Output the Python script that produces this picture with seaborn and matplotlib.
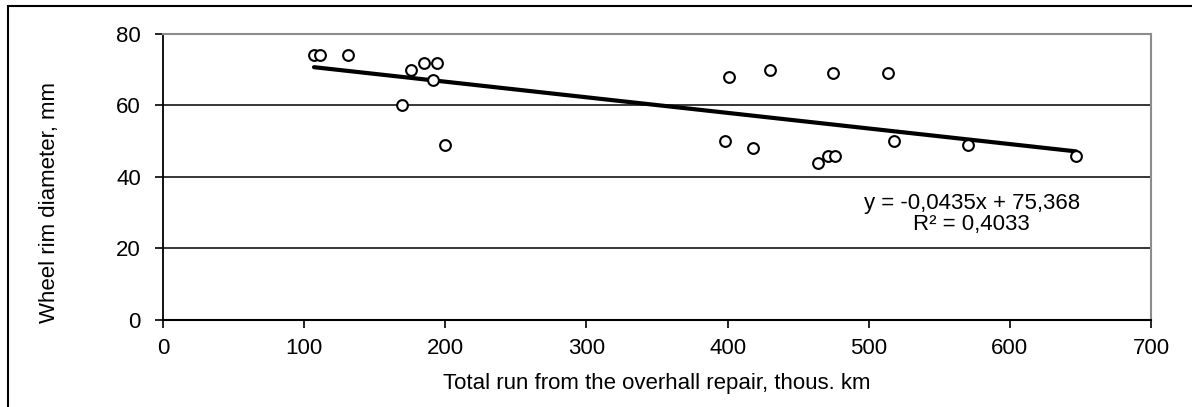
import numpy as np
import pandas as pd
import matplotlib
matplotlib.use("Agg")
import matplotlib.pyplot as plt
import matplotlib.patches as patches
import seaborn as sns

# data
run_km = [107, 111, 131, 169, 176, 185, 194, 191, 200,
          401, 430, 475, 514, 398, 418, 464, 471, 476, 518, 570, 647]
rim_mm = [74, 74, 74, 60, 70, 72, 72, 67, 49,
          68, 70, 69, 69, 50, 48, 44, 46, 46, 50, 49, 46]
x_ticks = [0, 100, 200, 300, 400, 500, 600, 700]
y_ticks = [0, 20, 40, 60, 80]
eq_text = "y = -0,0435x + 75,368\nR² = 0,4033"

df = pd.DataFrame({"run": run_km, "rim": rim_mm})

sns.set_style("white")
plt.rcParams['font.family'] = ['Liberation Sans', 'DejaVu Sans']
plt.rcParams['text.color'] = 'black'
plt.rcParams['xtick.color'] = 'black'
plt.rcParams['ytick.color'] = 'black'
plt.rcParams['axes.labelcolor'] = 'black'

fig = plt.figure(figsize=(11.92, 4.07), dpi=100)
ax = fig.add_axes([163/1192, 1 - 320/407, (1151 - 163)/1192, (320 - 34)/407])

# gridlines
for yv in y_ticks[1:-1]:
    ax.axhline(yv, color='black', lw=1.1, zorder=1)

# trend line
sns.regplot(data=df, x="run", y="rim", ax=ax, ci=None, scatter=False,
            line_kws={"color": "black", "lw": 3, "zorder": 2})

# points
sns.scatterplot(data=df, x="run", y="rim", ax=ax, marker='o', s=60,
                 facecolor='white', edgecolor='black', linewidth=1.5, zorder=3)

ax.set_xlim(0, 700)
ax.set_ylim(0, 80)
ax.set_xticks(x_ticks)
ax.set_yticks(y_ticks)
ax.tick_params(axis='both', direction='out', length=6, width=1.2,
               labelsize=16, bottom=True, left=True)
ax.tick_params(axis='x', pad=7)
ax.tick_params(axis='y', pad=10)

ax.spines['left'].set_color('black')
ax.spines['left'].set_linewidth(1.3)
ax.spines['bottom'].set_color('black')
ax.spines['bottom'].set_linewidth(1.5)
ax.spines['top'].set_color('#8c8c8c')
ax.spines['top'].set_linewidth(1.5)
ax.spines['right'].set_color('#8c8c8c')
ax.spines['right'].set_linewidth(1.5)

ax.set_xlabel("Total run from the overhall repair, thous. km", fontsize=16, labelpad=10)
ax.set_ylabel("Wheel rim diameter, mm", fontsize=16)
ax.yaxis.set_label_coords(-0.104, 0.41)

ax.text(573, 29.7, eq_text, ha='center', va='center', fontsize=16,
        linespacing=1.0)

# outer chart frame
frame = patches.Rectangle((8/1192, -0.2), 1.2, 1.2 - 6/407, transform=fig.transFigure,
                          fill=False, edgecolor='black', lw=1.5, zorder=0)
fig.patches.append(frame)

fig.savefig("out.png", dpi=100)
